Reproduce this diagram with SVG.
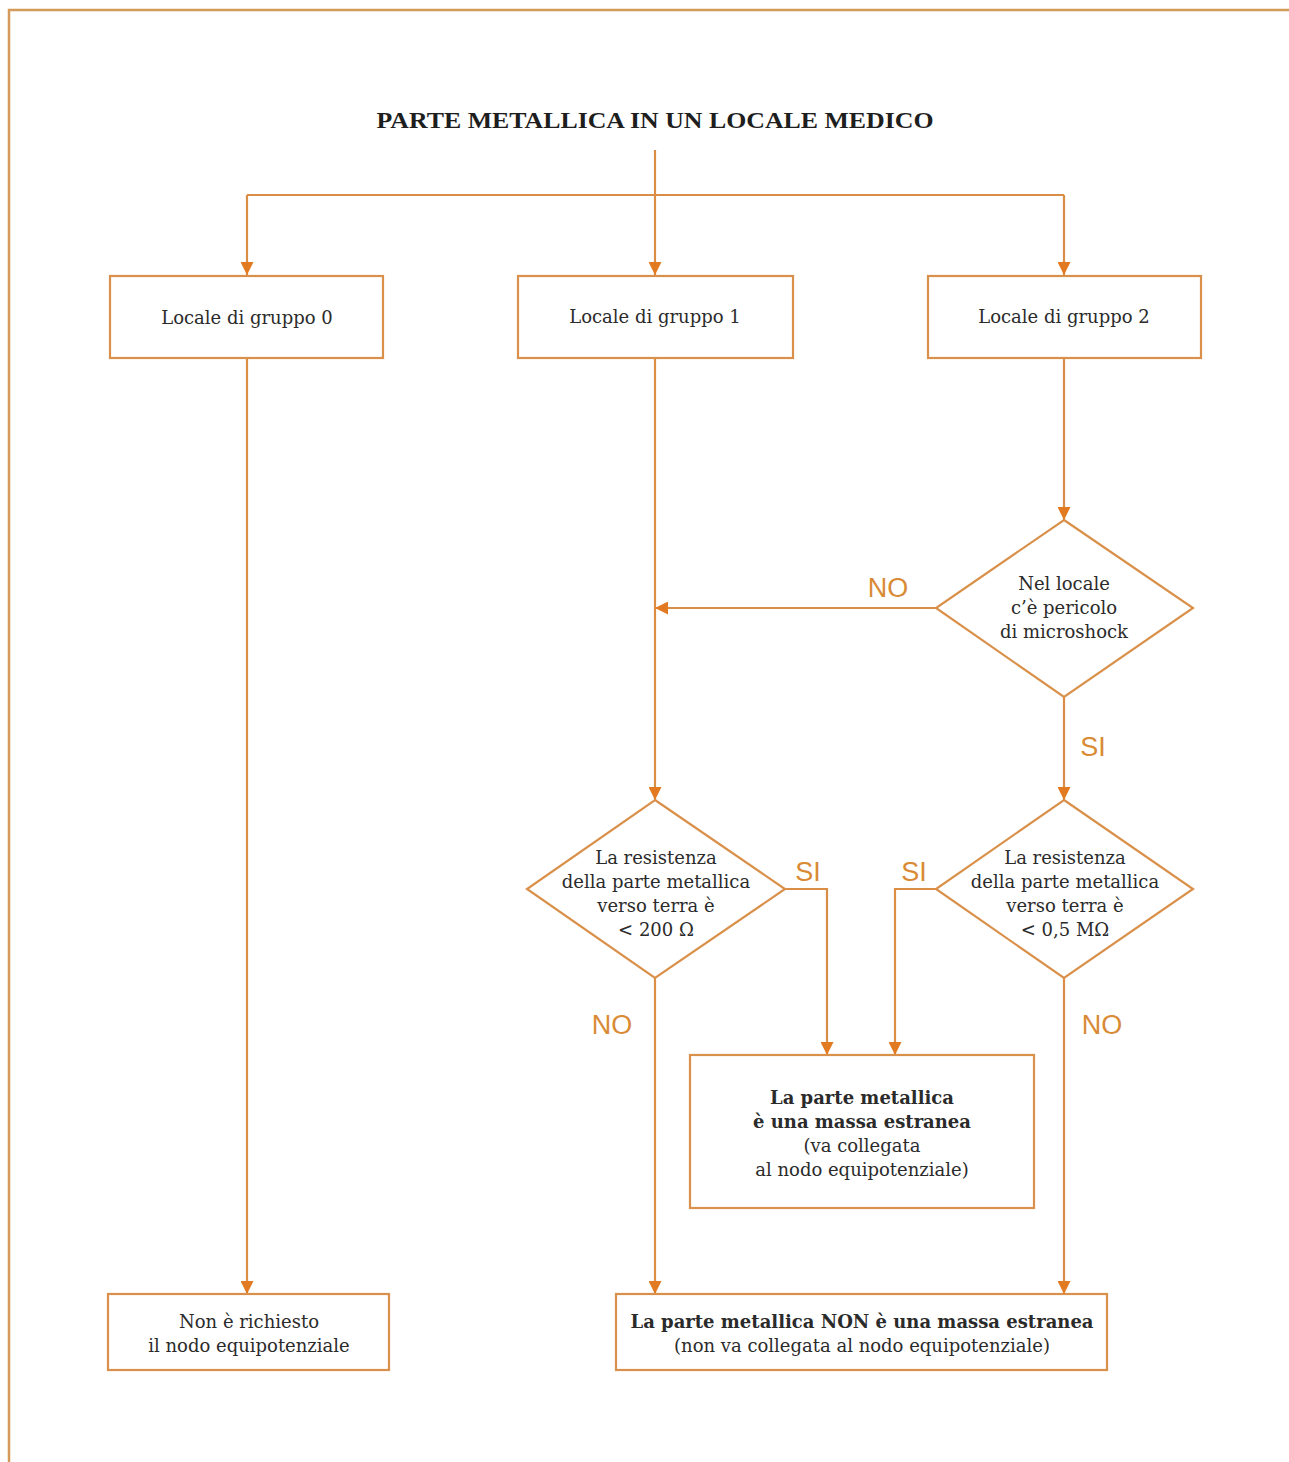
<svg xmlns="http://www.w3.org/2000/svg" width="1289" height="1462" viewBox="0 0 1289 1462">
  <style>
    .frame { fill: none; stroke: #d49a5a; stroke-width: 2.5; }
    .box { fill: #ffffff; stroke: #d9904a; stroke-width: 2.2; }
    .wire { fill: none; stroke: #d98d45; stroke-width: 2.2; }
    .t { font-family: "DejaVu Serif", "Liberation Serif", serif; font-size: 18px; fill: #2b2b2b; text-anchor: middle; }
    .b { font-weight: bold; }
    .title { font-family: "Liberation Serif", "DejaVu Serif", serif; font-size: 23px; font-weight: bold; fill: #1e1e1e; text-anchor: middle; }
    .lbl { font-family: "Liberation Sans", Arial, sans-serif; font-size: 27px; fill: #d98a35; text-anchor: middle; }
  </style>
  <defs>
    <marker id="arr" viewBox="0 0 10 10" refX="10" refY="5" markerWidth="14" markerHeight="13" markerUnits="userSpaceOnUse" orient="auto">
      <path d="M0,0 L10,5 L0,10 z" fill="#e27a22"/>
    </marker>
  </defs>

  <rect x="0" y="0" width="1289" height="1462" fill="#ffffff"/>

  <!-- page frame: top and left rules -->
  <path class="frame" d="M9,1462 V10 H1289"/>

  <text class="title" x="655" y="128" textLength="557" lengthAdjust="spacingAndGlyphs">PARTE METALLICA IN UN LOCALE MEDICO</text>

  <!-- connectors -->
  <g id="connectors">
    <path class="wire" d="M655,150 V195"/>
    <path class="wire" d="M247,195 H1064"/>
    <path class="wire" d="M247,195 V275" marker-end="url(#arr)"/>
    <path class="wire" d="M655,195 V275" marker-end="url(#arr)"/>
    <path class="wire" d="M1064,195 V275" marker-end="url(#arr)"/>

    <path class="wire" d="M247,358 V1294" marker-end="url(#arr)"/>
    <path class="wire" d="M655,358 V800" marker-end="url(#arr)"/>
    <path class="wire" d="M1064,358 V520" marker-end="url(#arr)"/>

    <path class="wire" d="M936,608 H655" marker-end="url(#arr)"/>
    <path class="wire" d="M1064,697 V800" marker-end="url(#arr)"/>

    <path class="wire" d="M785,889 H827 V1055" marker-end="url(#arr)"/>
    <path class="wire" d="M936,889 H895 V1055" marker-end="url(#arr)"/>

    <path class="wire" d="M655,978 V1294" marker-end="url(#arr)"/>
    <path class="wire" d="M1064,978 V1294" marker-end="url(#arr)"/>

    <text class="lbl" x="888" y="597">NO</text>
    <text class="lbl" x="1093" y="756">SI</text>
    <text class="lbl" x="808" y="881">SI</text>
    <text class="lbl" x="914" y="881">SI</text>
    <text class="lbl" x="612" y="1034">NO</text>
    <text class="lbl" x="1102" y="1034">NO</text>
  </g>

  <g id="gruppo0">
    <rect class="box" x="110" y="276" width="273" height="82"/>
    <text class="t" x="247" y="324">Locale di gruppo 0</text>
  </g>
  <g id="gruppo1">
    <rect class="box" x="518" y="276" width="275" height="82"/>
    <text class="t" x="655" y="323">Locale di gruppo 1</text>
  </g>
  <g id="gruppo2">
    <rect class="box" x="928" y="276" width="273" height="82"/>
    <text class="t" x="1064" y="323">Locale di gruppo 2</text>
  </g>

  <g id="microshock">
    <path class="box" d="M1064,520 L1193,608 L1064,697 L936,608 Z"/>
    <text class="t" x="1064" y="590">Nel locale</text>
    <text class="t" x="1064" y="614">c’è pericolo</text>
    <text class="t" x="1064" y="638">di microshock</text>
  </g>

  <g id="resistenza1">
    <path class="box" d="M655,800 L785,889 L655,978 L527,889 Z"/>
    <text class="t" x="656" y="864">La resistenza</text>
    <text class="t" x="656" y="888">della parte metallica</text>
    <text class="t" x="656" y="912">verso terra è</text>
    <text class="t" x="656" y="936">&lt; 200 Ω</text>
  </g>

  <g id="resistenza2">
    <path class="box" d="M1064,800 L1193,889 L1064,978 L936,889 Z"/>
    <text class="t" x="1065" y="864">La resistenza</text>
    <text class="t" x="1065" y="888">della parte metallica</text>
    <text class="t" x="1065" y="912">verso terra è</text>
    <text class="t" x="1065" y="936">&lt; 0,5 MΩ</text>
  </g>

  <g id="massa-estranea">
    <rect class="box" x="690" y="1055" width="344" height="153"/>
    <text class="t b" x="862" y="1104">La parte metallica</text>
    <text class="t b" x="862" y="1128">è una massa estranea</text>
    <text class="t" x="862" y="1152">(va collegata</text>
    <text class="t" x="862" y="1176">al nodo equipotenziale)</text>
  </g>

  <g id="non-richiesto">
    <rect class="box" x="108" y="1294" width="281" height="76"/>
    <text class="t" x="249" y="1328">Non è richiesto</text>
    <text class="t" x="249" y="1352">il nodo equipotenziale</text>
  </g>

  <g id="non-massa">
    <rect class="box" x="616" y="1294" width="491" height="76"/>
    <text class="t b" x="862" y="1328">La parte metallica NON è una massa estranea</text>
    <text class="t" x="862" y="1352">(non va collegata al nodo equipotenziale)</text>
  </g>
</svg>
